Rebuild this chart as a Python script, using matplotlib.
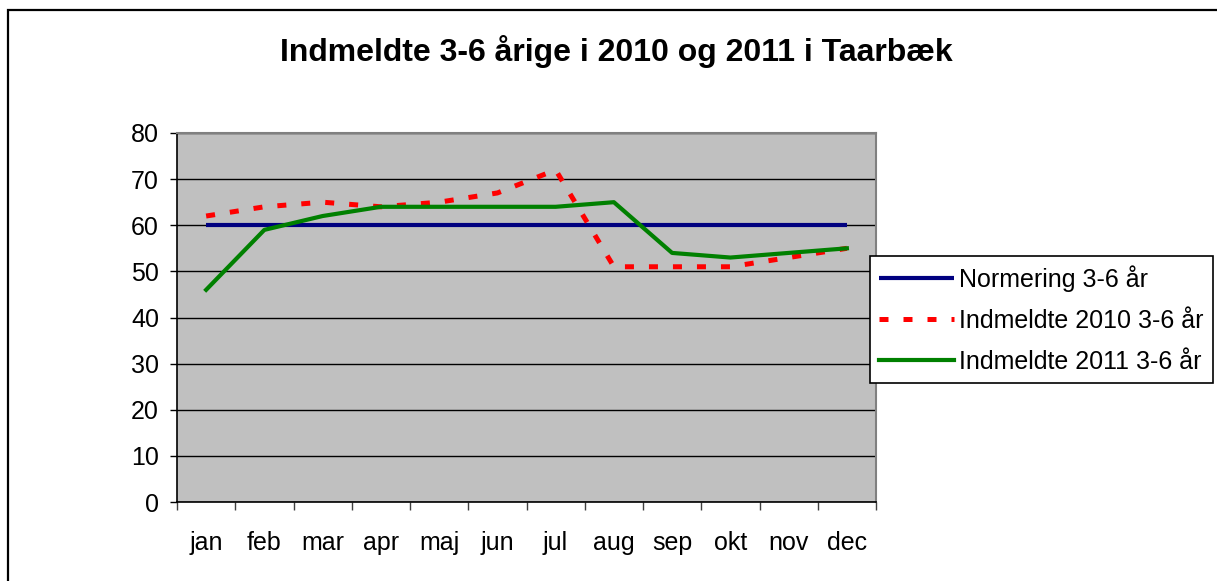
import numpy as np
import matplotlib.pyplot as plt
from matplotlib.patches import Rectangle

plt.rcParams['font.family'] = ['Liberation Sans', 'DejaVu Sans']

months = ['jan', 'feb', 'mar', 'apr', 'maj', 'jun', 'jul', 'aug', 'sep', 'okt', 'nov', 'dec']
normering = [60, 60, 60, 60, 60, 60, 60, 60, 60, 60, 60, 60]
indmeldte_2010 = [62, 64, 65, 64, 65, 67, 72, 51, 51, 51, 53, 55]
indmeldte_2011 = [46, 59, 62, 64, 64, 64, 64, 65, 54, 53, 54, 55]

W, H = 1217, 581
fig = plt.figure(figsize=(W / 100, H / 100), dpi=100)

# outer chart border (runs off the right/bottom edge like the screenshot)
fig.patches.append(Rectangle((8 / W, -0.05), 1.1, 1.05 - 10 / H, transform=fig.transFigure,
                             fill=False, edgecolor='black', linewidth=1.6, zorder=0))

ax = fig.add_axes([177 / W, (H - 502) / H, 699 / W, 369 / H])
ax.set_facecolor('#C0C0C0')

x = np.arange(len(months))
ax.plot(x, normering, color='#000080', linewidth=3, solid_capstyle='butt', label='Normering 3-6 år', zorder=3)
ax.plot(x, indmeldte_2010, color='#FF0000', linewidth=3.6, linestyle=(0, (1.8, 3.0)),
        label='Indmeldte 2010 3-6 år', zorder=4)
ax.plot(x, indmeldte_2011, color='#008000', linewidth=3, label='Indmeldte 2011 3-6 år', zorder=5)

ax.set_xlim(-0.5, 11.5)
ax.set_ylim(0, 80)
ax.set_yticks(range(0, 81, 10))
ax.yaxis.grid(True, color='black', linewidth=1)
ax.set_axisbelow(True)

ax.set_xticks(np.arange(-0.5, 12, 1))
ax.set_xticklabels([])
ax.set_xticks(x, minor=True)
ax.set_xticklabels(months, minor=True)
ax.tick_params(axis='x', which='major', length=6, width=1, color='#404040')
ax.tick_params(axis='x', which='minor', length=0, pad=21, labelsize=18)
ax.tick_params(axis='y', length=5, width=1, pad=8, labelsize=18)

for side in ['top', 'right']:
    ax.spines[side].set_color('#808080')
    ax.spines[side].set_linewidth(1.5)
for side in ['left', 'bottom']:
    ax.spines[side].set_color('black')
    ax.spines[side].set_linewidth(1.2)

fig.text(616 / W, 1 - 52 / H, 'Indmeldte 3-6 årige i 2010 og 2011 i Taarbæk',
         ha='center', va='center', fontsize=23, fontweight='bold')

leg = fig.legend(loc='upper left', bbox_to_anchor=(870 / W, 1 - 256 / H), fontsize=18,
                 frameon=True, fancybox=False, edgecolor='black', framealpha=1,
                 handlelength=3.0, handletextpad=0.2, labelspacing=0.68, borderpad=0.36,
                 borderaxespad=0)
leg.get_frame().set_linewidth(1.2)

fig.savefig('out.png', dpi=100)
